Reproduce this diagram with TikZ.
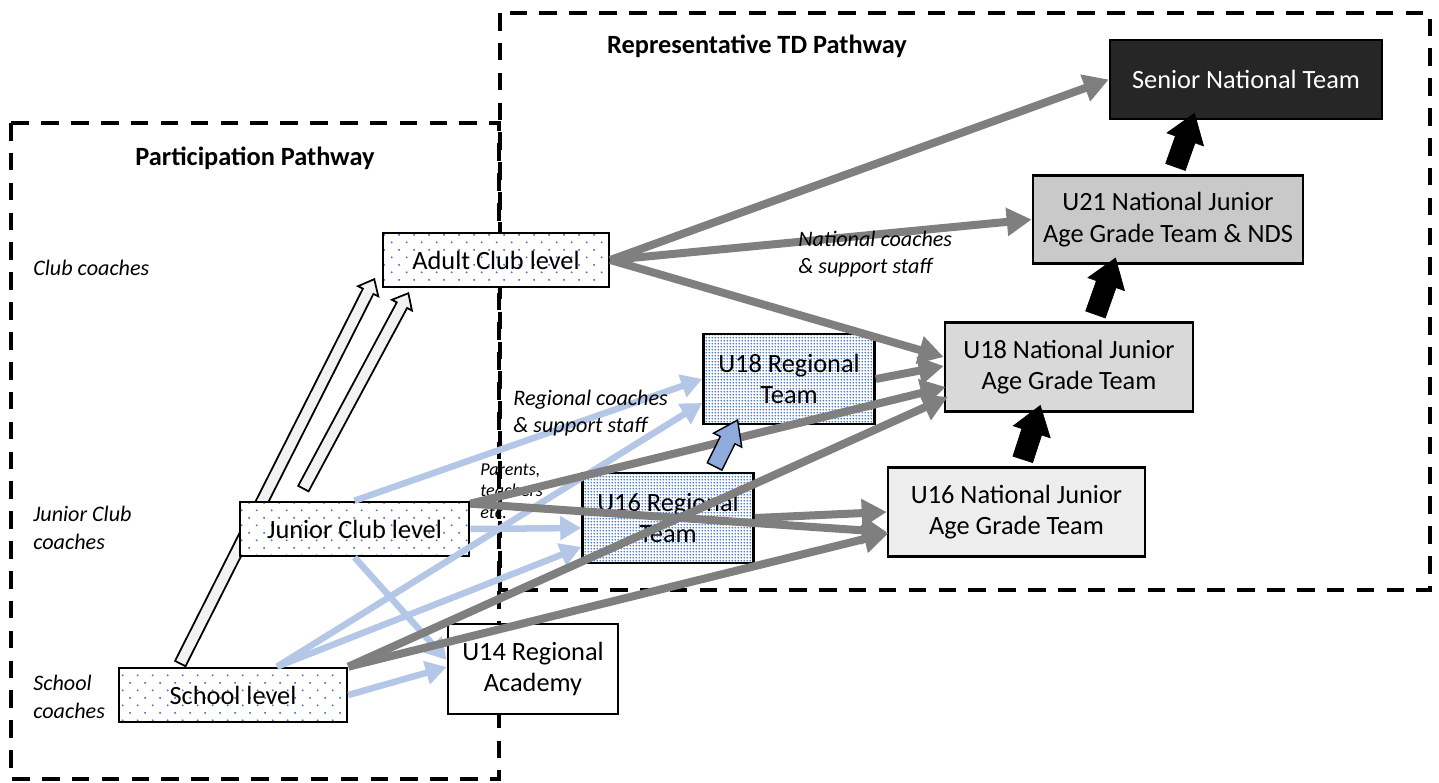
\documentclass[tikz,border=0pt]{standalone}
\usepackage{fontspec}
\setmainfont{Carlito}
\usetikzlibrary{arrows.meta,calc,patterns,shapes.arrows,backgrounds}

\definecolor{arrowgrey}{HTML}{7F7F7F}
\definecolor{lightblue}{HTML}{B4C7E7}
\definecolor{midblue}{HTML}{8FAADC}
\definecolor{dotblue}{HTML}{4472C4}
\definecolor{hollowfill}{HTML}{F2F2F2}
\definecolor{seniorfill}{HTML}{262626}
\definecolor{uxxifill}{HTML}{C9C9C9}
\definecolor{uxviiifill}{HTML}{D9D9D9}
\definecolor{uxvifill}{HTML}{EDEDED}

%% dot fills of the club and regional boxes
\pgfdeclarepatternformonly{sparsedots}{\pgfqpoint{0pt}{0pt}}{\pgfqpoint{8.5pt}{8.5pt}}{\pgfqpoint{8.5pt}{8.5pt}}{%
  \pgfpathcircle{\pgfqpoint{2.1pt}{2.1pt}}{0.6pt}%
  \pgfpathcircle{\pgfqpoint{6.35pt}{6.35pt}}{0.6pt}%
  \pgfusepath{fill}}
\pgfdeclarepatternformonly{densedots}{\pgfqpoint{0pt}{0pt}}{\pgfqpoint{1.8pt}{1.8pt}}{\pgfqpoint{1.8pt}{1.8pt}}{%
  \pgfpathcircle{\pgfqpoint{0.9pt}{0.9pt}}{0.62pt}%
  \pgfusepath{fill}}

\newcommand{\boxfont}{\fontsize{15}{18}\selectfont}
\newcommand{\headfont}{\fontsize{15}{18}\selectfont\bfseries}
\newcommand{\coachfont}{\fontsize{12.6}{15.8}\selectfont\itshape}
\newcommand{\parentfont}{\fontsize{10.3}{12.3}\selectfont\itshape}

%% big block arrow between two points
\newcommand{\blockarrow}[3]{%
  \path let \p1=($(#3)-(#2)$), \n1={atan2(\y1,\x1)}, \n2={veclen(\x1,\y1)} in
    node[#1, minimum height=\n2, rotate=\n1] at ($(#2)!0.5!(#3)$) {};}

\tikzset{
  levelbox/.style={draw, line width=1.5pt, inner sep=2pt, align=center, font=\boxfont},
  clubbox/.style={levelbox, preaction={fill=white}, pattern=sparsedots, pattern color=dotblue,
    minimum height=1.08cm},
  regbox/.style={levelbox, preaction={fill=white}, pattern=densedots, pattern color=dotblue,
    minimum width=3.42cm, minimum height=1.8cm},
  natbox/.style={levelbox, fill=#1, minimum height=1.77cm},
  greyline/.style={draw=arrowgrey, line width=0.16cm, -{Triangle[length=0.5cm,width=0.54cm]}},
  blueline/.style={draw=lightblue, line width=0.13cm, -{Triangle[length=0.42cm,width=0.46cm]}},
  coachlabel/.style={anchor=west, align=left, inner sep=0pt, font=\coachfont},
  dashframe/.style={draw, line width=2.3pt, dash pattern=on 10pt off 7pt},
  hollowarrow/.style={single arrow, draw=black, line width=1pt, fill=hollowfill,
    inner xsep=0pt, inner ysep=0.1cm, single arrow head extend=0.11cm, single arrow tip angle=80},
  blackarrow/.style={single arrow, draw=black, fill=black,
    inner xsep=0pt, inner ysep=0.2cm, single arrow head extend=0.18cm, single arrow tip angle=70},
  bluearrow/.style={single arrow, draw=black, line width=0.8pt, fill=midblue,
    inner xsep=0pt, inner ysep=0.15cm, single arrow head extend=0.15cm, single arrow tip angle=70}
}

\begin{document}
\begin{tikzpicture}[x=0.02cm, y=-0.02cm]
\useasboundingbox (0,0) rectangle (1439,783);

%% titles
\node[font=\headfont] (reptitle) at (757,46) {Representative TD Pathway};
\node[font=\headfont] (parttitle) at (255,158) {Participation Pathway};

%% participation levels
\node[clubbox, minimum width=4.52cm] (adult) at (496,260) {Adult Club level};
\node[clubbox, minimum width=4.58cm] (junior) at (354.5,529) {Junior Club level};
\node[clubbox, minimum width=4.56cm] (school) at (233,695) {School level};
\node[levelbox, fill=white, minimum width=3.4cm, minimum height=1.8cm] (u14) at (533,669) {U14 Regional\\Academy};

%% regional teams
\node[regbox] (u16r) at (668,518) {U16 Regional\\Team};
\node[regbox] (u18r) at (789,379) {U18 Regional\\Team};

%% national teams
\node[natbox=uxvifill, minimum width=5.14cm] (u16n) at (1016.5,512) {U16 National Junior\\Age Grade Team};
\node[natbox=uxviiifill, minimum width=4.96cm] (u18n) at (1069,367) {U18 National Junior\\Age Grade Team};
\node[natbox=uxxifill, minimum width=5.4cm] (u21n) at (1168,219.5) {U21 National Junior\\Age Grade Team \& NDS};
\node[levelbox, fill=seniorfill, text=white, minimum width=5.44cm, minimum height=1.58cm] (senior) at (1246,79.5) {Senior National Team};

%% frames and club pathway
\begin{pgfonlayer}{background}
  \draw[dashframe] (11,123) rectangle (499,779);
  \draw[dashframe] (500,13) rectangle (1430,590);
  \blockarrow{hollowarrow}{$(school.north west)+(61,0)$}{$(adult.south west)+(-9,-6)$}
  \blockarrow{hollowarrow}{$(junior.north west)+(63,-9)$}{$(adult.south west)+(25,8)$}
\end{pgfonlayer}

%% coach labels
\node[coachlabel] (clubcoach) at (33,268) {Club coaches};
\node[coachlabel] (juniorcoach) at (33,528) {Junior Club\\coaches};
\node[coachlabel] (schoolcoach) at (33,697) {School\\coaches};
\node[coachlabel, font=\parentfont] (parents) at (480,491) {Parents,\\teachers\\etc.};

%% to the regional teams
\draw[blueline] (junior.north) -- (u18r.west);
\draw[blueline] ($(school.north)+(44,0)$) -- ($(u18r.west)+(0,24)$);
\draw[blueline] ($(school.north)+(44,0)$) -- ($(u16r.west)+(0,29)$);
\draw[blueline] (junior.east) -- ($(u16r.west)+(0,10)$);
\draw[blueline] (junior.south) -- ($(u14.west)+(0,-9)$);
\draw[blueline] (school.east) -- ($(u14.west)+(0,-2)$);

%% to the national teams
\draw[greyline] (adult.east) -- (senior.west);
\draw[greyline] (adult.east) -- (u21n.west);
\draw[greyline] (adult.east) -- ($(u18n.west)+(0,-10)$);
\draw[greyline] (u18r.east) -- ($(u18n.west)+(0,-1)$);
\draw[greyline] ($(junior.north east)+(0,3)$) -- ($(u18n.west)+(2,20)$);
\draw[greyline] ($(junior.north east)+(0,3)$) -- ($(u16n.west)+(0,20)$);
\draw[greyline] (school.north east) -- ($(u18n.west)+(4,30)$);
\draw[greyline] (school.north east) -- ($(u16n.west)+(2,21)$);
\draw[greyline] (u16r.east) -- (u16n.west);

%% staff labels sit on the lines
\node[coachlabel] (regstaff) at (513,413) {Regional coaches\\\& support staff};
\node[coachlabel] (natstaff) at (798,254) {National coaches\\\& support staff};

%% steps up
\blockarrow{bluearrow}{$(u16r.north)+(44,0)$}{$(u18r.south)+(-54,0)$}
\blockarrow{blackarrow}{$(u16n.north)+(4,0)$}{$(u18n.south)+(-31,0)$}
\blockarrow{blackarrow}{$(u18n.north)+(24,0)$}{$(u21n.south)+(-55,0)$}
\blockarrow{blackarrow}{$(u21n.north)+(5,0)$}{$(senior.south)+(-54,0)$}
\end{tikzpicture}
\end{document}
